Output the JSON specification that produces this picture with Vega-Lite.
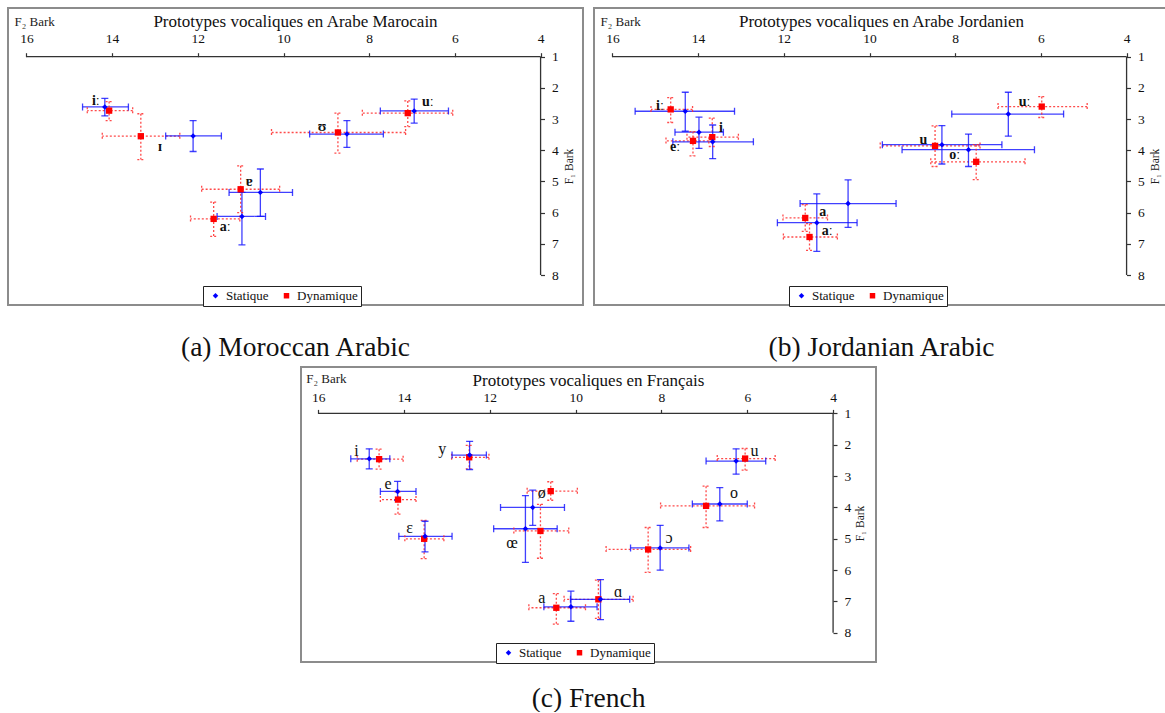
{
"$schema": "https://vega.github.io/schema/vega-lite/v6.json",
"background": "white",
"padding": {"left": 7, "top": 7, "right": 0, "bottom": 0},
"config": {
  "view": {"stroke": "#8c8c8c", "strokeWidth": 2},
  "font": "Liberation Serif",
  "title": {"font": "Liberation Serif", "fontWeight": "normal", "color": "#111"},
  "axis": {"domain": false, "grid": false, "tickSize": 4, "tickColor": "#333", "tickWidth": 1.2, "labelFont": "Liberation Serif", "labelFontSize": 13, "labelColor": "#111", "labelFlush": false, "labelOverlap": false, "titleFont": "Liberation Serif", "titleFontWeight": "normal", "titleColor": "#222"},
  "axisTop": {"labelBaseline": "alphabetic", "titleFontSize": 12.5, "titleAlign": "left", "titleBaseline": "alphabetic"},
  "axisRight": {"labelAlign": "left", "labelBaseline": "middle", "titleFontSize": 11, "titleAngle": 270, "titleAlign": "center", "titleBaseline": "middle"},
  "legend": {"labelFont": "Liberation Serif", "labelFontSize": 13, "labelColor": "#111", "symbolSize": 30, "symbolStrokeWidth": 0, "labelOffset": 4, "columnPadding": 8, "padding": 3, "fillColor": "white", "strokeColor": "#222", "symbolOffset": 3}
},
"datasets": {
  "ma": [
    {"v":"iː","type":"Dynamique","F2":14.07,"F1":2.73,"F2lo":13.52,"F2hi":14.58,"F1lo":2.44,"F1hi":3.05},
    {"v":"ɪ","type":"Dynamique","F2":13.33,"F1":3.55,"F2lo":12.42,"F2hi":14.23,"F1lo":2.83,"F1hi":4.30},
    {"v":"ɐ","type":"Dynamique","F2":11.0,"F1":5.25,"F2lo":10.09,"F2hi":11.91,"F1lo":4.50,"F1hi":6.0},
    {"v":"aː","type":"Dynamique","F2":11.63,"F1":6.2,"F2lo":11.02,"F2hi":12.17,"F1lo":5.66,"F1hi":6.76},
    {"v":"ʊ","type":"Dynamique","F2":8.73,"F1":3.43,"F2lo":7.15,"F2hi":10.28,"F1lo":2.81,"F1hi":4.09},
    {"v":"uː","type":"Dynamique","F2":7.10,"F1":2.81,"F2lo":6.05,"F2hi":8.16,"F1lo":2.42,"F1hi":3.24},
    {"v":"iː","type":"Statique","F2":14.17,"F1":2.61,"F2lo":13.62,"F2hi":14.69,"F1lo":2.34,"F1hi":2.90},
    {"v":"ɪ","type":"Statique","F2":12.11,"F1":3.54,"F2lo":11.45,"F2hi":12.75,"F1lo":3.05,"F1hi":4.04},
    {"v":"ɐ","type":"Statique","F2":10.54,"F1":5.35,"F2lo":9.79,"F2hi":11.27,"F1lo":4.60,"F1hi":6.12},
    {"v":"aː","type":"Statique","F2":10.97,"F1":6.12,"F2lo":10.42,"F2hi":11.55,"F1lo":5.35,"F1hi":7.03},
    {"v":"ʊ","type":"Statique","F2":8.52,"F1":3.48,"F2lo":7.67,"F2hi":9.39,"F1lo":3.05,"F1hi":3.91},
    {"v":"uː","type":"Statique","F2":6.95,"F1":2.74,"F2lo":6.15,"F2hi":7.74,"F1lo":2.36,"F1hi":3.13}
  ],
  "ma_lab": [
    {"t":"iː","x":14.38,"y":2.42},{"t":"ɪ","x":12.88,"y":3.90},{"t":"ɐ","x":10.80,"y":5.02},
    {"t":"aː","x":11.36,"y":6.46},{"t":"ʊ","x":9.10,"y":3.24},{"t":"uː","x":6.63,"y":2.44}
  ],
  "ja": [
    {"v":"iː","type":"Dynamique","F2":14.64,"F1":2.69,"F2lo":14.13,"F2hi":15.10,"F1lo":2.31,"F1hi":3.11},
    {"v":"i","type":"Dynamique","F2":13.67,"F1":3.58,"F2lo":13.06,"F2hi":14.26,"F1lo":2.97,"F1hi":3.88},
    {"v":"eː","type":"Dynamique","F2":14.12,"F1":3.70,"F2lo":13.75,"F2hi":14.75,"F1lo":3.40,"F1hi":4.18},
    {"v":"a","type":"Dynamique","F2":11.50,"F1":6.17,"F2lo":10.98,"F2hi":12.02,"F1lo":5.74,"F1hi":6.60},
    {"v":"aː","type":"Dynamique","F2":11.40,"F1":6.78,"F2lo":10.75,"F2hi":12.01,"F1lo":6.35,"F1hi":7.21},
    {"v":"uː","type":"Dynamique","F2":5.98,"F1":2.60,"F2lo":4.92,"F2hi":7.00,"F1lo":2.28,"F1hi":2.95},
    {"v":"u","type":"Dynamique","F2":8.47,"F1":3.86,"F2lo":7.42,"F2hi":9.75,"F1lo":3.22,"F1hi":4.52},
    {"v":"oː","type":"Dynamique","F2":7.51,"F1":4.37,"F2lo":6.37,"F2hi":8.57,"F1lo":3.82,"F1hi":4.94},
    {"v":"iː","type":"Statique","F2":14.30,"F1":2.75,"F2lo":13.15,"F2hi":15.47,"F1lo":2.14,"F1hi":3.39},
    {"v":"i","type":"Statique","F2":13.98,"F1":3.42,"F2lo":13.41,"F2hi":14.54,"F1lo":2.94,"F1hi":3.94},
    {"v":"eː","type":"Statique","F2":13.66,"F1":3.73,"F2lo":12.71,"F2hi":14.59,"F1lo":3.19,"F1hi":4.27},
    {"v":"a","type":"Statique","F2":10.50,"F1":5.71,"F2lo":9.38,"F2hi":11.62,"F1lo":4.95,"F1hi":6.47},
    {"v":"aː","type":"Statique","F2":11.23,"F1":6.32,"F2lo":10.29,"F2hi":12.15,"F1lo":5.40,"F1hi":7.24},
    {"v":"uː","type":"Statique","F2":6.76,"F1":2.84,"F2lo":5.47,"F2hi":8.08,"F1lo":2.14,"F1hi":3.55},
    {"v":"u","type":"Statique","F2":8.31,"F1":3.82,"F2lo":6.91,"F2hi":9.70,"F1lo":3.21,"F1hi":4.44},
    {"v":"oː","type":"Statique","F2":7.69,"F1":3.98,"F2lo":6.15,"F2hi":9.24,"F1lo":3.48,"F1hi":4.52}
  ],
  "ja_lab": [
    {"t":"iː","x":14.89,"y":2.58},{"t":"i","x":13.47,"y":3.30},{"t":"eː","x":14.54,"y":3.89},
    {"t":"a","x":11.09,"y":5.97},{"t":"aː","x":10.99,"y":6.58},{"t":"uː","x":6.38,"y":2.46},
    {"t":"u","x":8.74,"y":3.67},{"t":"oː","x":8.01,"y":4.15}
  ],
  "fr": [
    {"v":"i","type":"Dynamique","F2":14.58,"F1":2.46,"F2lo":14.02,"F2hi":15.09,"F1lo":2.14,"F1hi":2.78},
    {"v":"y","type":"Dynamique","F2":12.48,"F1":2.40,"F2lo":12.02,"F2hi":12.89,"F1lo":2.02,"F1hi":2.77},
    {"v":"e","type":"Dynamique","F2":14.14,"F1":3.75,"F2lo":13.72,"F2hi":14.55,"F1lo":3.50,"F1hi":4.21},
    {"v":"ɛ","type":"Dynamique","F2":13.53,"F1":5.0,"F2lo":13.07,"F2hi":13.98,"F1lo":4.41,"F1hi":5.63},
    {"v":"ø","type":"Dynamique","F2":10.58,"F1":3.48,"F2lo":9.96,"F2hi":11.13,"F1lo":3.18,"F1hi":3.77},
    {"v":"œ","type":"Dynamique","F2":10.82,"F1":4.75,"F2lo":10.16,"F2hi":11.44,"F1lo":3.90,"F1hi":5.62},
    {"v":"a","type":"Dynamique","F2":10.45,"F1":7.20,"F2lo":9.77,"F2hi":11.09,"F1lo":6.75,"F1hi":7.72},
    {"v":"ɑ","type":"Dynamique","F2":9.47,"F1":6.93,"F2lo":8.66,"F2hi":10.27,"F1lo":6.32,"F1hi":7.54},
    {"v":"ɔ","type":"Dynamique","F2":8.31,"F1":5.34,"F2lo":7.32,"F2hi":9.29,"F1lo":4.64,"F1hi":6.07},
    {"v":"o","type":"Dynamique","F2":6.96,"F1":3.95,"F2lo":5.83,"F2hi":8.02,"F1lo":3.32,"F1hi":4.64},
    {"v":"u","type":"Dynamique","F2":6.05,"F1":2.44,"F2lo":5.35,"F2hi":6.70,"F1lo":2.12,"F1hi":2.81},
    {"v":"i","type":"Statique","F2":14.81,"F1":2.45,"F2lo":14.33,"F2hi":15.24,"F1lo":2.13,"F1hi":2.77},
    {"v":"y","type":"Statique","F2":12.47,"F1":2.33,"F2lo":12.08,"F2hi":12.88,"F1lo":1.89,"F1hi":2.79},
    {"v":"e","type":"Statique","F2":14.15,"F1":3.49,"F2lo":13.72,"F2hi":14.55,"F1lo":3.17,"F1hi":3.77},
    {"v":"ɛ","type":"Statique","F2":13.51,"F1":4.92,"F2lo":12.88,"F2hi":14.12,"F1lo":4.44,"F1hi":5.42},
    {"v":"ø","type":"Statique","F2":11.0,"F1":4.0,"F2lo":10.26,"F2hi":11.75,"F1lo":3.45,"F1hi":4.57},
    {"v":"œ","type":"Statique","F2":11.17,"F1":4.68,"F2lo":10.43,"F2hi":11.91,"F1lo":3.62,"F1hi":5.75},
    {"v":"a","type":"Statique","F2":10.11,"F1":7.17,"F2lo":9.5,"F2hi":10.74,"F1lo":6.67,"F1hi":7.63},
    {"v":"ɑ","type":"Statique","F2":9.42,"F1":6.93,"F2lo":8.74,"F2hi":10.12,"F1lo":6.30,"F1hi":7.58},
    {"v":"ɔ","type":"Statique","F2":8.03,"F1":5.29,"F2lo":7.36,"F2hi":8.72,"F1lo":4.57,"F1hi":6.0},
    {"v":"o","type":"Statique","F2":6.64,"F1":3.89,"F2lo":6.0,"F2hi":7.28,"F1lo":3.37,"F1hi":4.43},
    {"v":"u","type":"Statique","F2":6.26,"F1":2.52,"F2lo":5.57,"F2hi":6.96,"F1lo":2.13,"F1hi":2.94}
  ],
  "fr_lab": [
    {"t":"i","x":15.11,"y":2.19},{"t":"y","x":13.11,"y":2.12},{"t":"e","x":14.37,"y":3.26},
    {"t":"ɛ","x":13.87,"y":4.67},{"t":"ø","x":10.79,"y":3.55},{"t":"œ","x":11.48,"y":5.13},
    {"t":"a","x":10.79,"y":6.88},{"t":"ɑ","x":9.01,"y":6.69},{"t":"ɔ","x":7.82,"y":4.96},
    {"t":"o","x":6.31,"y":3.55},{"t":"u","x":5.83,"y":2.20}
  ]
},
"vconcat": [
  {
    "hconcat": [
      {
        "vconcat": [
          {
            "width": 575, "height": 297,
            "title": {"text": "Prototypes vocaliques en Arabe Marocain", "orient": "top", "anchor": "middle", "offset": -36, "baseline": "alphabetic", "fontSize": 17, "font": "Liberation Serif"},
            "data": {"name": "ma"},
            "layer": [
              {"data": {"values": [{"axis": "F2"}]}, "mark": {"type": "rule", "color": "#333", "strokeWidth": 1.3},
               "encoding": {
                 "x": {"datum": 16, "type": "quantitative", "scale": {"domain": [3.01, 16.43], "reverse": true, "nice": false, "zero": false},
                       "axis": {"orient": "top", "offset": -48.7, "values": [16, 14, 12, 10, 8, 6, 4], "labelPadding": 10, "labelFont": "Liberation Serif", "labelFontSize": 13.5, "titleFont": "Liberation Serif", "titleFontSize": 13, "title": "F₂ Bark", "titleX": 6, "titleY": -31.7}},
                 "x2": {"datum": 4},
                 "y": {"datum": 1, "type": "quantitative", "scale": {"domain": [-0.56, 8.96], "reverse": true, "nice": false, "zero": false},
                       "axis": {"orient": "right", "offset": -42.5, "values": [1, 2, 3, 4, 5, 6, 7, 8], "labelPadding": 7, "labelFont": "Liberation Serif", "labelFontSize": 13.5, "titleFont": "Liberation Serif", "titleFontSize": 11.5, "title": "F₁ Bark", "titleX": 28.5, "titleY": 158}}
               }},
              {"data": {"values": [{"axis": "F1"}]}, "mark": {"type": "rule", "color": "#333", "strokeWidth": 1.3},
               "encoding": {"x": {"datum": 4, "type": "quantitative"}, "y": {"datum": 1, "type": "quantitative"}, "y2": {"datum": 8}}},
              {
                "layer": [
                  {"mark": {"type": "rule", "strokeWidth": 1.3}, "encoding": {"x": {"field": "F2lo", "type": "quantitative"}, "x2": {"field": "F2hi"}, "y": {"field": "F1", "type": "quantitative"}}},
                  {"mark": {"type": "rule", "strokeWidth": 1.3}, "encoding": {"x": {"field": "F2", "type": "quantitative"}, "y": {"field": "F1lo", "type": "quantitative"}, "y2": {"field": "F1hi"}}},
                  {"mark": {"type": "rule", "strokeWidth": 1.3, "yOffset": -3.5, "y2Offset": 3.5}, "encoding": {"x": {"field": "F2lo", "type": "quantitative"}, "y": {"field": "F1", "type": "quantitative"}, "y2": {"field": "F1"}}},
                  {"mark": {"type": "rule", "strokeWidth": 1.3, "yOffset": -3.5, "y2Offset": 3.5}, "encoding": {"x": {"field": "F2hi", "type": "quantitative"}, "y": {"field": "F1", "type": "quantitative"}, "y2": {"field": "F1"}}},
                  {"mark": {"type": "rule", "strokeWidth": 1.3, "xOffset": -3.5, "x2Offset": 3.5}, "encoding": {"x": {"field": "F2", "type": "quantitative"}, "x2": {"field": "F2"}, "y": {"field": "F1lo", "type": "quantitative"}}},
                  {"mark": {"type": "rule", "strokeWidth": 1.3, "xOffset": -3.5, "x2Offset": 3.5}, "encoding": {"x": {"field": "F2", "type": "quantitative"}, "x2": {"field": "F2"}, "y": {"field": "F1hi", "type": "quantitative"}}}
                ],
                "encoding": {
                  "color": {"condition": {"test": "datum.type === 'Statique'", "value": "#1010ff"}, "value": "#ff2a2a"},
                  "strokeDash": {"condition": {"test": "datum.type === 'Statique'", "value": [1, 0]}, "value": [2, 2]},
                  "opacity": {"condition": {"test": "datum.type === 'Statique'", "value": 0.8}, "value": 0.85}
                }
              },
              {"mark": {"type": "point", "filled": true, "opacity": 1},
               "encoding": {
                 "x": {"field": "F2", "type": "quantitative"},
                 "y": {"field": "F1", "type": "quantitative"},
                 "color": {"field": "type", "type": "nominal", "scale": {"domain": ["Statique", "Dynamique"], "range": ["#0000ff", "#ff0000"]}, "legend": {"orient": "none", "legendX": 195, "legendY": 278, "direction": "horizontal", "title": null, "labelFont": "Liberation Serif", "labelFontSize": 13}},
                 "shape": {"field": "type", "type": "nominal", "scale": {"domain": ["Statique", "Dynamique"], "range": ["diamond", "square"]}, "legend": {"orient": "none", "legendX": 195, "legendY": 278, "direction": "horizontal", "title": null, "labelFont": "Liberation Serif", "labelFontSize": 13}},
                 "size": {"condition": {"test": "datum.type === 'Statique'", "value": 30}, "value": 40}
               }},
              {"data": {"name": "ma_lab"}, "mark": {"type": "text", "font": "Liberation Serif", "fontSize": 14, "fontWeight": "bold", "color": "#111", "align": "center", "baseline": "middle"},
               "encoding": {"x": {"field": "x", "type": "quantitative"}, "y": {"field": "y", "type": "quantitative"}, "text": {"field": "t"}}}
            ]
          }
        ],
        "title": {"text": "(a) Moroccan Arabic", "orient": "bottom", "anchor": "middle", "offset": 48, "baseline": "alphabetic", "fontSize": 27.5, "font": "Liberation Serif"},
        "resolve": {"scale": {"color": "independent", "shape": "independent"}}
      },
      {
        "vconcat": [
          {
            "width": 575, "height": 297,
            "title": {"text": "Prototypes vocaliques en Arabe Jordanien", "orient": "top", "anchor": "middle", "offset": -36, "baseline": "alphabetic", "fontSize": 17, "font": "Liberation Serif"},
            "data": {"name": "ja"},
            "layer": [
              {"data": {"values": [{"axis": "F2"}]}, "mark": {"type": "rule", "color": "#333", "strokeWidth": 1.3},
               "encoding": {
                 "x": {"datum": 16, "type": "quantitative", "scale": {"domain": [3.01, 16.43], "reverse": true, "nice": false, "zero": false},
                       "axis": {"orient": "top", "offset": -48.7, "values": [16, 14, 12, 10, 8, 6, 4], "labelPadding": 10, "labelFont": "Liberation Serif", "labelFontSize": 13.5, "titleFont": "Liberation Serif", "titleFontSize": 13, "title": "F₂ Bark", "titleX": 6, "titleY": -31.7}},
                 "x2": {"datum": 4},
                 "y": {"datum": 1, "type": "quantitative", "scale": {"domain": [-0.56, 8.96], "reverse": true, "nice": false, "zero": false},
                       "axis": {"orient": "right", "offset": -42.5, "values": [1, 2, 3, 4, 5, 6, 7, 8], "labelPadding": 7, "labelFont": "Liberation Serif", "labelFontSize": 13.5, "titleFont": "Liberation Serif", "titleFontSize": 11.5, "title": "F₁ Bark", "titleX": 28.5, "titleY": 158}}
               }},
              {"data": {"values": [{"axis": "F1"}]}, "mark": {"type": "rule", "color": "#333", "strokeWidth": 1.3},
               "encoding": {"x": {"datum": 4, "type": "quantitative"}, "y": {"datum": 1, "type": "quantitative"}, "y2": {"datum": 8}}},
              {
                "layer": [
                  {"mark": {"type": "rule", "strokeWidth": 1.3}, "encoding": {"x": {"field": "F2lo", "type": "quantitative"}, "x2": {"field": "F2hi"}, "y": {"field": "F1", "type": "quantitative"}}},
                  {"mark": {"type": "rule", "strokeWidth": 1.3}, "encoding": {"x": {"field": "F2", "type": "quantitative"}, "y": {"field": "F1lo", "type": "quantitative"}, "y2": {"field": "F1hi"}}},
                  {"mark": {"type": "rule", "strokeWidth": 1.3, "yOffset": -3.5, "y2Offset": 3.5}, "encoding": {"x": {"field": "F2lo", "type": "quantitative"}, "y": {"field": "F1", "type": "quantitative"}, "y2": {"field": "F1"}}},
                  {"mark": {"type": "rule", "strokeWidth": 1.3, "yOffset": -3.5, "y2Offset": 3.5}, "encoding": {"x": {"field": "F2hi", "type": "quantitative"}, "y": {"field": "F1", "type": "quantitative"}, "y2": {"field": "F1"}}},
                  {"mark": {"type": "rule", "strokeWidth": 1.3, "xOffset": -3.5, "x2Offset": 3.5}, "encoding": {"x": {"field": "F2", "type": "quantitative"}, "x2": {"field": "F2"}, "y": {"field": "F1lo", "type": "quantitative"}}},
                  {"mark": {"type": "rule", "strokeWidth": 1.3, "xOffset": -3.5, "x2Offset": 3.5}, "encoding": {"x": {"field": "F2", "type": "quantitative"}, "x2": {"field": "F2"}, "y": {"field": "F1hi", "type": "quantitative"}}}
                ],
                "encoding": {
                  "color": {"condition": {"test": "datum.type === 'Statique'", "value": "#1010ff"}, "value": "#ff2a2a"},
                  "strokeDash": {"condition": {"test": "datum.type === 'Statique'", "value": [1, 0]}, "value": [2, 2]},
                  "opacity": {"condition": {"test": "datum.type === 'Statique'", "value": 0.8}, "value": 0.85}
                }
              },
              {"mark": {"type": "point", "filled": true, "opacity": 1},
               "encoding": {
                 "x": {"field": "F2", "type": "quantitative"},
                 "y": {"field": "F1", "type": "quantitative"},
                 "color": {"field": "type", "type": "nominal", "scale": {"domain": ["Statique", "Dynamique"], "range": ["#0000ff", "#ff0000"]}, "legend": {"orient": "none", "legendX": 195, "legendY": 278, "direction": "horizontal", "title": null, "labelFont": "Liberation Serif", "labelFontSize": 13}},
                 "shape": {"field": "type", "type": "nominal", "scale": {"domain": ["Statique", "Dynamique"], "range": ["diamond", "square"]}, "legend": {"orient": "none", "legendX": 195, "legendY": 278, "direction": "horizontal", "title": null, "labelFont": "Liberation Serif", "labelFontSize": 13}},
                 "size": {"condition": {"test": "datum.type === 'Statique'", "value": 30}, "value": 40}
               }},
              {"data": {"name": "ja_lab"}, "mark": {"type": "text", "font": "Liberation Serif", "fontSize": 14, "fontWeight": "bold", "color": "#111", "align": "center", "baseline": "middle"},
               "encoding": {"x": {"field": "x", "type": "quantitative"}, "y": {"field": "y", "type": "quantitative"}, "text": {"field": "t"}}}
            ]
          }
        ],
        "title": {"text": "(b) Jordanian Arabic", "orient": "bottom", "anchor": "middle", "offset": 48, "baseline": "alphabetic", "fontSize": 27.5, "font": "Liberation Serif"},
        "resolve": {"scale": {"color": "independent", "shape": "independent"}}
      }
    ],
    "spacing": 9,
    "resolve": {"scale": {"color": "independent", "shape": "independent"}}
  },
  {
    "vconcat": [
      {
        "width": 575, "height": 295,
        "title": {"text": "Prototypes vocaliques en Français", "orient": "top", "anchor": "middle", "offset": -36, "baseline": "alphabetic", "fontSize": 17, "font": "Liberation Serif"},
        "data": {"name": "fr"},
        "layer": [
          {"data": {"values": [{"axis": "F2"}]}, "mark": {"type": "rule", "color": "#333", "strokeWidth": 1.3},
           "encoding": {
             "x": {"datum": 16, "type": "quantitative", "scale": {"domain": [3.0, 16.40], "reverse": true, "nice": false, "zero": false},
                   "axis": {"orient": "top", "offset": -46.4, "values": [16, 14, 12, 10, 8, 6, 4], "labelPadding": 8.4, "labelFont": "Liberation Serif", "labelFontSize": 13.5, "titleFont": "Liberation Serif", "titleFontSize": 13, "title": "F₂ Bark", "titleX": 4.7, "titleY": -30.7}},
             "x2": {"datum": 4},
             "y": {"datum": 1, "type": "quantitative", "scale": {"domain": [-0.48, 8.93], "reverse": true, "nice": false, "zero": false},
                   "axis": {"orient": "right", "offset": -43, "values": [1, 2, 3, 4, 5, 6, 7, 8], "labelPadding": 7, "labelFont": "Liberation Serif", "labelFontSize": 13.5, "titleFont": "Liberation Serif", "titleFontSize": 11.5, "title": "F₁ Bark", "titleX": 27.7, "titleY": 156}}
           }},
          {"data": {"values": [{"axis": "F1"}]}, "mark": {"type": "rule", "color": "#333", "strokeWidth": 1.3},
           "encoding": {"x": {"datum": 4, "type": "quantitative"}, "y": {"datum": 1, "type": "quantitative"}, "y2": {"datum": 8}}},
          {
            "layer": [
              {"mark": {"type": "rule", "strokeWidth": 1.3}, "encoding": {"x": {"field": "F2lo", "type": "quantitative"}, "x2": {"field": "F2hi"}, "y": {"field": "F1", "type": "quantitative"}}},
              {"mark": {"type": "rule", "strokeWidth": 1.3}, "encoding": {"x": {"field": "F2", "type": "quantitative"}, "y": {"field": "F1lo", "type": "quantitative"}, "y2": {"field": "F1hi"}}},
              {"mark": {"type": "rule", "strokeWidth": 1.3, "yOffset": -3.5, "y2Offset": 3.5}, "encoding": {"x": {"field": "F2lo", "type": "quantitative"}, "y": {"field": "F1", "type": "quantitative"}, "y2": {"field": "F1"}}},
              {"mark": {"type": "rule", "strokeWidth": 1.3, "yOffset": -3.5, "y2Offset": 3.5}, "encoding": {"x": {"field": "F2hi", "type": "quantitative"}, "y": {"field": "F1", "type": "quantitative"}, "y2": {"field": "F1"}}},
              {"mark": {"type": "rule", "strokeWidth": 1.3, "xOffset": -3.5, "x2Offset": 3.5}, "encoding": {"x": {"field": "F2", "type": "quantitative"}, "x2": {"field": "F2"}, "y": {"field": "F1lo", "type": "quantitative"}}},
              {"mark": {"type": "rule", "strokeWidth": 1.3, "xOffset": -3.5, "x2Offset": 3.5}, "encoding": {"x": {"field": "F2", "type": "quantitative"}, "x2": {"field": "F2"}, "y": {"field": "F1hi", "type": "quantitative"}}}
            ],
            "encoding": {
              "color": {"condition": {"test": "datum.type === 'Statique'", "value": "#1010ff"}, "value": "#ff2a2a"},
              "strokeDash": {"condition": {"test": "datum.type === 'Statique'", "value": [1, 0]}, "value": [2, 2]},
              "opacity": {"condition": {"test": "datum.type === 'Statique'", "value": 0.8}, "value": 0.85}
            }
          },
          {"mark": {"type": "point", "filled": true, "opacity": 1},
           "encoding": {
             "x": {"field": "F2", "type": "quantitative"},
             "y": {"field": "F1", "type": "quantitative"},
             "color": {"field": "type", "type": "nominal", "scale": {"domain": ["Statique", "Dynamique"], "range": ["#0000ff", "#ff0000"]}, "legend": {"orient": "none", "legendX": 195, "legendY": 276, "direction": "horizontal", "title": null, "labelFont": "Liberation Serif", "labelFontSize": 13}},
             "shape": {"field": "type", "type": "nominal", "scale": {"domain": ["Statique", "Dynamique"], "range": ["diamond", "square"]}, "legend": {"orient": "none", "legendX": 195, "legendY": 276, "direction": "horizontal", "title": null, "labelFont": "Liberation Serif", "labelFontSize": 13}},
             "size": {"condition": {"test": "datum.type === 'Statique'", "value": 30}, "value": 40}
           }},
          {"data": {"name": "fr_lab"}, "mark": {"type": "text", "font": "Liberation Serif", "fontSize": 16, "color": "#111", "align": "center", "baseline": "middle"},
           "encoding": {"x": {"field": "x", "type": "quantitative"}, "y": {"field": "y", "type": "quantitative"}, "text": {"field": "t"}}}
        ]
      }
    ],
    "title": {"text": "(c) French", "orient": "bottom", "anchor": "middle", "offset": 42, "baseline": "alphabetic", "fontSize": 27.5, "font": "Liberation Serif"},
    "resolve": {"scale": {"color": "independent", "shape": "independent"}}
  }
],
"spacing": 5,
"center": true,
"resolve": {"scale": {"color": "independent", "shape": "independent"}}
}
